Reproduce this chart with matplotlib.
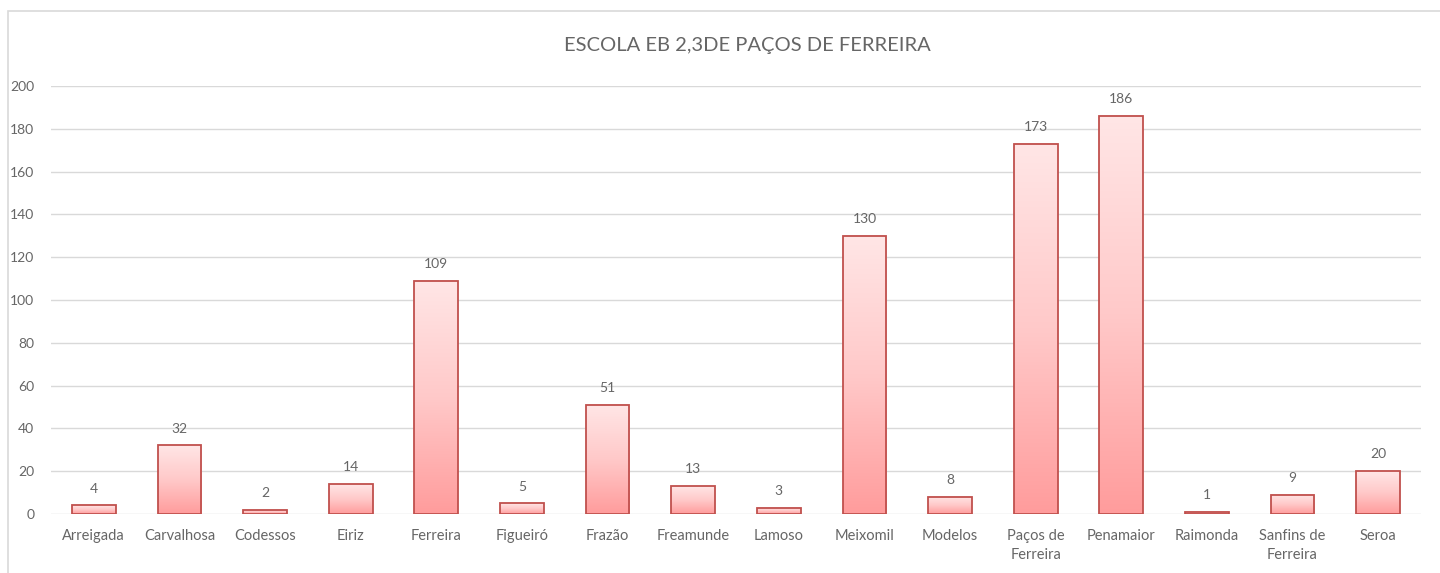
import matplotlib.pyplot as plt
import numpy as np
from matplotlib.colors import LinearSegmentedColormap
from matplotlib.patches import Rectangle

categories = ['Arreigada', 'Carvalhosa', 'Codessos', 'Eiriz', 'Ferreira', 'Figueiró',
              'Frazão', 'Freamunde', 'Lamoso', 'Meixomil', 'Modelos', 'Paços de\nFerreira',
              'Penamaior', 'Raimonda', 'Sanfins de\nFerreira', 'Seroa']
values = [4, 32, 2, 14, 109, 5, 51, 13, 3, 130, 8, 173, 186, 1, 9, 20]

plt.rcParams['font.family'] = ['Lato', 'DejaVu Sans']

fig = plt.figure(figsize=(14.4, 5.73), dpi=100)
ax = fig.add_axes([0.0354, 0.103, 0.9514, 0.747])

# chart area border
fig.patches.append(Rectangle((8 / 1440, -0.05), 1.1, 1 - 11 / 573 + 0.05,
                             transform=fig.transFigure, fill=False,
                             edgecolor='#D9D9D9', linewidth=1.2))

x = np.arange(len(categories))
width = 0.51
cmap = LinearSegmentedColormap.from_list('redgrad', ['#FF9C9C', '#FFC9C9', '#FFE6E6'])
grad = np.linspace(0, 1, 256).reshape(-1, 1)

for xi, v in zip(x, values):
    ax.imshow(grad, cmap=cmap, origin='lower', aspect='auto',
              extent=(xi - width / 2, xi + width / 2, 0, v), zorder=2)
    ax.text(xi, v + 5, str(v), ha='center', va='bottom', fontsize=10, color='#666666')

ax.bar(x, values, width=width, facecolor='none', edgecolor='#C0504D', linewidth=1.3, zorder=3)

ax.set_xlim(-0.5, len(categories) - 0.5)
ax.set_ylim(0, 200)
ax.set_yticks(range(0, 201, 20))
ax.set_xticks(x)
ax.set_xticklabels(categories, fontsize=10.5, color='#666666', linespacing=1.45)
ax.tick_params(axis='y', labelsize=10, labelcolor='#666666', length=0, pad=12)
ax.tick_params(axis='x', length=0, pad=11)
ax.grid(axis='y', color='#D9D9D9', linewidth=1)
ax.set_axisbelow(True)
for s in ax.spines.values():
    s.set_visible(False)

fig.text(0.519, 0.921, 'ESCOLA EB 2,3DE PAÇOS DE FERREIRA', ha='center', va='center',
         fontsize=14.5, color='#666666')

fig.savefig('out.png', dpi=100)
